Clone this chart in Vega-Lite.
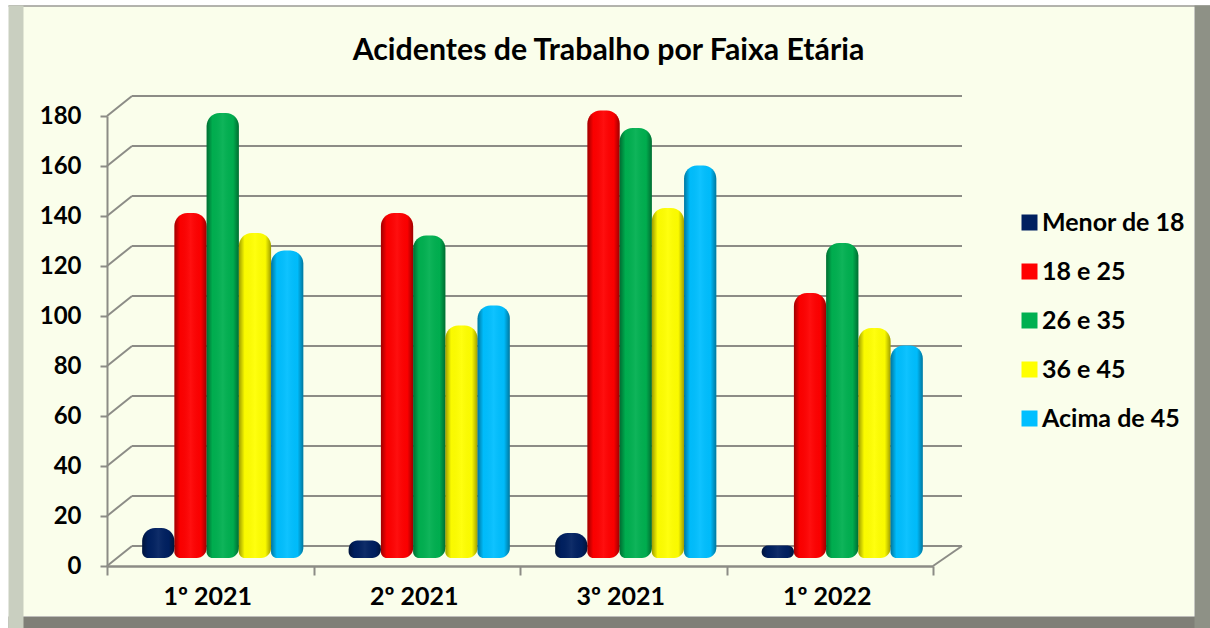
{"$schema":"https://vega.github.io/schema/vega-lite/v6.json","width":1171,"height":610,"autosize":"none","padding":{"left":23,"top":6,"right":16,"bottom":12},"background":"#ffffff",
"view":{"fill":"#fafeeb","stroke":null},
"title":{"text":"Acidentes de Trabalho por Faixa Etária","font":"Lato","fontSize":30.3,"fontWeight":"bold","color":"#000000","anchor":"middle","frame":"group","offset":-61},
"config":{"font":"Lato"},
"datasets":{"bars":[
{"periodo":"1º 2021","faixa":"Menor de 18","acidentes":12},{"periodo":"1º 2021","faixa":"18 e 25","acidentes":138},{"periodo":"1º 2021","faixa":"26 e 35","acidentes":178},{"periodo":"1º 2021","faixa":"36 e 45","acidentes":130},{"periodo":"1º 2021","faixa":"Acima de 45","acidentes":123},
{"periodo":"2º 2021","faixa":"Menor de 18","acidentes":7},{"periodo":"2º 2021","faixa":"18 e 25","acidentes":138},{"periodo":"2º 2021","faixa":"26 e 35","acidentes":129},{"periodo":"2º 2021","faixa":"36 e 45","acidentes":93},{"periodo":"2º 2021","faixa":"Acima de 45","acidentes":101},
{"periodo":"3º 2021","faixa":"Menor de 18","acidentes":10},{"periodo":"3º 2021","faixa":"18 e 25","acidentes":179},{"periodo":"3º 2021","faixa":"26 e 35","acidentes":172},{"periodo":"3º 2021","faixa":"36 e 45","acidentes":140},{"periodo":"3º 2021","faixa":"Acima de 45","acidentes":157},
{"periodo":"1º 2022","faixa":"Menor de 18","acidentes":5},{"periodo":"1º 2022","faixa":"18 e 25","acidentes":106},{"periodo":"1º 2022","faixa":"26 e 35","acidentes":126},{"periodo":"1º 2022","faixa":"36 e 45","acidentes":92},{"periodo":"1º 2022","faixa":"Acima de 45","acidentes":85}],
"grid":[{"valor":0},{"valor":20},{"valor":40},{"valor":60},{"valor":80},{"valor":100},{"valor":120},{"valor":140},{"valor":160},{"valor":180}],
"piso":[{"valor":0}]},
"resolve":{"scale":{"x":"independent","y":"independent"},"axis":{"x":"independent","y":"independent"}},
"layer":[
{"data":{"name":"piso"},"mark":{"type":"point","opacity":0},
 "encoding":{
  "x":{"datum":0,"type":"quantitative","scale":{"domain":[0,1],"range":[-15,1187]},"axis":{"orient":"bottom","offset":6,"domainWidth":12,"domainColor":"#7f7f77","labels":false,"ticks":false,"grid":false,"title":null}},
  "y":{"datum":0,"type":"quantitative","scale":{"domain":[0,1],"range":[622,-1]},"axis":{"orient":"left","offset":7.5,"domainWidth":15,"domainColor":"#c9cfc0","labels":false,"ticks":false,"grid":false,"title":null}}}},
{"data":{"name":"piso"},"mark":{"type":"point","opacity":0},
 "encoding":{
  "x":{"datum":0,"type":"quantitative","scale":{"domain":[0,1],"range":[-15,1187]},"axis":{"orient":"top","offset":0.5,"domainWidth":1.5,"domainColor":"#9a9a94","labels":false,"ticks":false,"grid":false,"title":null}},
  "y":{"datum":0,"type":"quantitative","scale":{"domain":[0,1],"range":[622,-1]},"axis":{"orient":"right","offset":8,"domainWidth":16,"domainColor":"#8e9186","labels":false,"ticks":false,"grid":false,"title":null}}}},
{"data":{"name":"grid"},"mark":{"type":"rule","color":"#8c8c86","strokeWidth":2,"xOffset":25,"x2Offset":29,"yOffset":-20,"y2Offset":-20},
 "encoding":{
  "x":{"datum":0,"type":"quantitative","scale":{"domain":[0,4],"range":[84,910]},"axis":null},
  "x2":{"datum":4},
  "y":{"field":"valor","type":"quantitative","scale":{"domain":[0,180],"range":[560,110]},"axis":null},
  "y2":{"field":"valor"}}},
{"data":{"name":"grid"},"mark":{"type":"rule","color":"#8c8c86","strokeWidth":2,"xOffset":0,"x2Offset":25,"y2Offset":-20},
 "encoding":{
  "x":{"datum":0,"type":"quantitative","scale":{"domain":[0,4],"range":[84,910]},"axis":null},
  "x2":{"datum":0},
  "y":{"field":"valor","type":"quantitative","scale":{"domain":[0,180],"range":[560,110]},"axis":null},
  "y2":{"field":"valor"}}},
{"data":{"name":"piso"},"mark":{"type":"rule","color":"#8c8c86","strokeWidth":2,"xOffset":0,"x2Offset":29,"y2Offset":-20},
 "encoding":{
  "x":{"datum":4,"type":"quantitative","scale":{"domain":[0,4],"range":[84,910]},"axis":null},
  "x2":{"datum":4},
  "y":{"field":"valor","type":"quantitative","scale":{"domain":[0,180],"range":[560,110]},"axis":null},
  "y2":{"field":"valor"}}},
{"data":{"name":"bars"},"mark":{"type":"point","opacity":0},
 "encoding":{
  "x":{"field":"periodo","type":"nominal","sort":null,"scale":{"type":"band","domain":["1º 2021","2º 2021","3º 2021","1º 2022"],"range":[84,910],"paddingInner":0,"paddingOuter":0},
   "axis":{"orient":"bottom","offset":-50,"title":null,"labelAngle":0,"labelFont":"Lato","labelFontSize":25,"labelFontWeight":"bold","labelColor":"#000000","labelPadding":9,"labelOffset":-3,"tickBand":"extent","tickSize":9,"tickWidth":2,"tickColor":"#8c8c86","domainWidth":2.5,"domainColor":"#8c8c86","grid":false}},
  "y":{"field":"acidentes","type":"quantitative","stack":null,"scale":{"domain":[0,180],"range":[560,110]},
   "axis":{"orient":"left","offset":-84,"title":null,"values":[0,20,40,60,80,100,120,140,160,180],"labelFont":"Lato","labelFontSize":24,"labelFontWeight":"bold","labelColor":"#000000","labelPadding":19,"tickSize":7,"tickWidth":2,"tickColor":"#8c8c86","domainWidth":2,"domainColor":"#8c8c86","grid":false}}}},
{"data":{"name":"bars"},"mark":{"type":"bar","cornerRadiusTopLeft":13,"cornerRadiusTopRight":13,"cornerRadiusBottomLeft":6,"cornerRadiusBottomRight":10},
 "encoding":{
  "x":{"field":"periodo","type":"nominal","sort":null,"scale":{"type":"band","domain":["1º 2021","2º 2021","3º 2021","1º 2022"],"range":[96.5,922.5],"paddingInner":0.22,"paddingOuter":0.11},"axis":null},
  "xOffset":{"field":"faixa","type":"nominal","sort":["Menor de 18","18 e 25","26 e 35","36 e 45","Acima de 45"],"scale":{"domain":["Menor de 18","18 e 25","26 e 35","36 e 45","Acima de 45"],"paddingInner":0,"paddingOuter":0}},
  "y":{"field":"acidentes","type":"quantitative","stack":null,"scale":{"domain":[0,180],"range":[552,102]},"axis":null},
  "color":{"field":"faixa","type":"nominal","sort":["Menor de 18","18 e 25","26 e 35","36 e 45","Acima de 45"],
   "scale":{"domain":["Menor de 18","18 e 25","26 e 35","36 e 45","Acima de 45"],"range":["#002060","#ff0000","#00b050","#ffff00","#00bfff"]},
   "legend":{"title":null,"orient":"none","legendX":994,"legendY":204,"symbolType":"square","symbolSize":256,"symbolStrokeWidth":0,"symbolOpacity":1,"labelFont":"Lato","labelFontSize":25,"labelFontWeight":"bold","labelColor":"#000000","rowPadding":23,"labelOffset":0,"labelLimit":220}}}},
{"data":{"name":"bars"},"mark":{"type":"bar","cornerRadiusTopLeft":13,"cornerRadiusTopRight":13,"cornerRadiusBottomLeft":6,"cornerRadiusBottomRight":10,
  "color":{"gradient":"linear","x1":0,"x2":1,"y1":0,"y2":0,"stops":[{"offset":0,"color":"rgba(0,0,0,0.38)"},{"offset":0.18,"color":"rgba(0,0,0,0.02)"},{"offset":0.5,"color":"rgba(255,255,255,0.06)"},{"offset":0.82,"color":"rgba(0,0,0,0.02)"},{"offset":1,"color":"rgba(0,0,0,0.38)"}]}},
 "encoding":{
  "x":{"field":"periodo","type":"nominal","sort":null,"scale":{"type":"band","domain":["1º 2021","2º 2021","3º 2021","1º 2022"],"range":[96.5,922.5],"paddingInner":0.22,"paddingOuter":0.11},"axis":null},
  "xOffset":{"field":"faixa","type":"nominal","sort":["Menor de 18","18 e 25","26 e 35","36 e 45","Acima de 45"],"scale":{"domain":["Menor de 18","18 e 25","26 e 35","36 e 45","Acima de 45"],"paddingInner":0,"paddingOuter":0}},
  "y":{"field":"acidentes","type":"quantitative","stack":null,"scale":{"domain":[0,180],"range":[552,102]},"axis":null}}}
]}
